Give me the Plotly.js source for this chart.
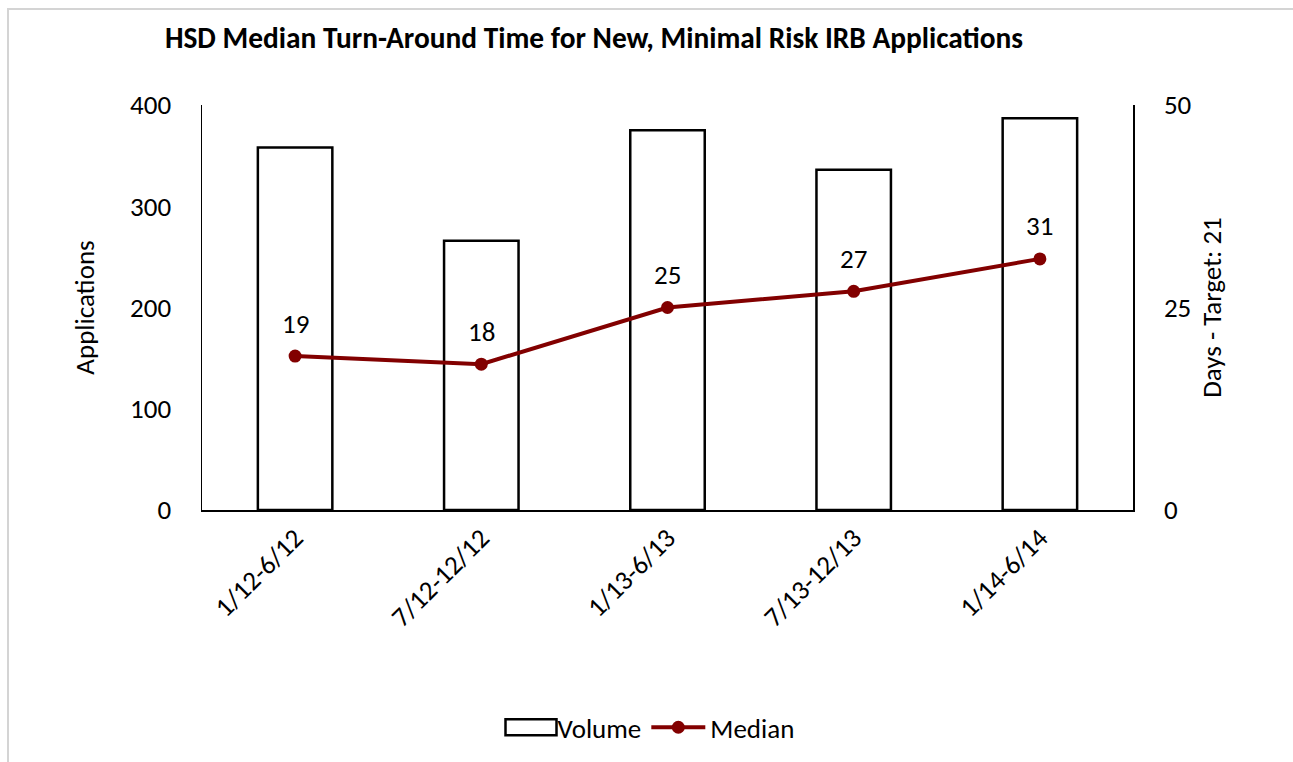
<!DOCTYPE html>
<html>
<head>
<meta charset="utf-8">
<script src="https://cdn.plot.ly/plotly-3.0.1.min.js"></script>
<style>
  html, body { margin: 0; padding: 0; background: #ffffff; }
  #wrap { position: relative; width: 1293px; height: 762px; overflow: hidden; }
  #chart { position: absolute; left: 0; top: 0; width: 1293px; height: 762px; }
  #frame { position: absolute; left: 7px; top: 8px; width: 1290px; height: 800px;
           border: 2px solid #d4d4d4; pointer-events: none; box-sizing: border-box; }
</style>
</head>
<body>
<div id="wrap">
  <div id="chart"></div>
  <div id="frame"></div>
</div>
<script>
const categories = ["1/12-6/12", "7/12-12/12", "1/13-6/13", "7/13-12/13", "1/14-6/14"];
const volume = [358, 266, 375, 336, 387];
const median = [19, 18, 25, 27, 31];
const leftTicks = [0, 100, 200, 300, 400];
const rightTicks = [0, 25, 50];

const FONT = "Carlito, Calibri, 'Open Sans', sans-serif";
const RED = "#820000";
const FS = 27;

const traces = [
  {
    type: "bar",
    name: "Volume",
    x: categories,
    y: volume,
    marker: { color: "#ffffff", line: { color: "#000000", width: 2.5 } },
    width: 0.4,
    yaxis: "y",
    hoverinfo: "x+y"
  },
  {
    type: "scatter",
    mode: "lines+markers",
    name: "Median",
    x: categories,
    y: median,
    line: { color: RED, width: 4 },
    marker: { color: RED, size: 13 },
    yaxis: "y2"
  }
];

const annotations = median.map((v, i) => ({
  x: categories[i],
  y: v,
  xref: "x",
  yref: "y2",
  text: String(v),
  showarrow: false,
  yshift: 33,
  font: { family: FONT, size: FS, color: "#000000" }
}));

const layout = {
  width: 1293,
  height: 762,
  paper_bgcolor: "#ffffff",
  plot_bgcolor: "#ffffff",
  font: { family: FONT, size: FS, color: "#000000" },
  margin: { l: 202, r: 160, t: 105, b: 252 },
  title: {
    text: "<b>HSD Median Turn-Around Time for New, Minimal Risk IRB Applications</b>",
    x: 0.4594,
    xanchor: "center",
    xref: "container",
    y: 0.951,
    yanchor: "middle",
    yref: "container",
    font: { family: FONT, size: 29.4, color: "#000000" }
  },
  xaxis: {
    type: "category",
    tickangle: -45,
    showline: true,
    linecolor: "#000000",
    linewidth: 1.5,
    ticks: "",
    showgrid: false,
    zeroline: false,
    tickfont: { family: FONT, size: FS }
  },
  yaxis: {
    range: [0, 400],
    tickvals: leftTicks,
    ticktext: leftTicks.map(String),
    showline: true,
    linecolor: "#000000",
    linewidth: 1.5,
    ticks: "",
    ticklabelstandoff: 24,
    showgrid: false,
    zeroline: false,
    title: { text: "Applications", standoff: 27, font: { family: FONT, size: FS } }
  },
  yaxis2: {
    range: [0, 50],
    tickvals: rightTicks,
    ticktext: rightTicks.map(String),
    overlaying: "y",
    side: "right",
    showline: true,
    linecolor: "#000000",
    linewidth: 1.5,
    ticks: "",
    ticklabelstandoff: 24,
    showgrid: false,
    zeroline: false,
    title: { text: "Days - Target: 21", standoff: 12, font: { family: FONT, size: FS } }
  },
  bargap: 0.6,
  showlegend: true,
  legend: {
    orientation: "h",
    x: 0.5,
    xref: "container",
    xanchor: "center",
    y: 0.045,
    yref: "container",
    yanchor: "middle",
    font: { family: FONT, size: FS },
    itemwidth: 54,
    traceorder: "normal"
  },
  annotations: annotations
};

Plotly.newPlot("chart", traces, layout, { displayModeBar: false, staticPlot: true }).then(function (gd) {
  // widen the bar legend swatch into a rectangle like the original
  const items = gd.querySelectorAll(".legend .traces");
  items.forEach(function (tr) {
    const p = tr.querySelector(".legendpoints path");
    if (p && tr.textContent.indexOf("Volume") >= 0) {
      p.setAttribute("d", "M-20,-8H31V8H-20Z");
      p.style.strokeWidth = "2.5px";
    }
  });
});
</script>
</body>
</html>
